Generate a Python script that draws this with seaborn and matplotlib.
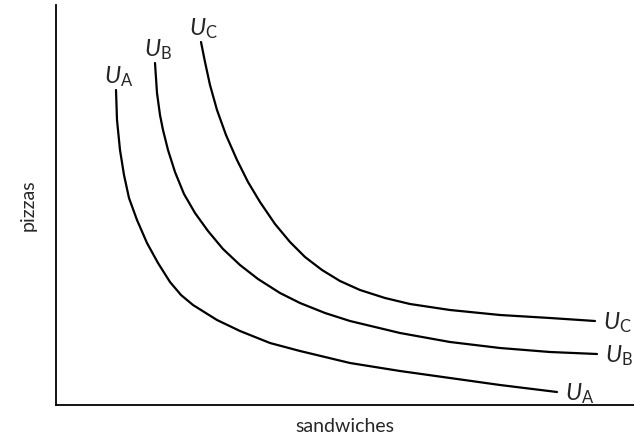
import matplotlib
matplotlib.use("Agg")
import matplotlib.pyplot as plt
import pandas as pd
import seaborn as sns

# values (x = sandwiches, y = pizzas, arbitrary units)
sandwiches_a = [60, 61, 64, 68, 73, 81, 91, 102, 114, 125, 137, 161, 184, 214, 244,
                294, 344, 394, 444, 501]
pizzas_a = [315, 285, 255, 230, 207, 185, 162, 142, 123, 110, 100, 85, 74, 62, 54,
            42, 34, 27, 20, 13]

sandwiches_b = [99, 101, 104, 107, 112, 119, 128, 139, 152, 167, 184, 202, 224, 244, 269,
                294, 344, 394, 444, 494, 541]
pizzas_b = [342, 312, 290, 275, 255, 233, 211, 192, 174, 156, 140, 126, 112, 102, 92,
            84, 72, 63, 57, 53, 51]

sandwiches_c = [145, 149, 154, 161, 170, 181, 192, 204, 219, 234, 249, 266, 284, 304, 329,
                354, 394, 444, 494, 539]
pizzas_c = [363, 343, 320, 295, 270, 245, 223, 203, 181, 163, 148, 135, 124, 115, 107,
            101, 95, 90, 87, 84]

curve_names = ["A", "B", "C"]

frames = []
for name, xs, ys in zip(curve_names, [sandwiches_a, sandwiches_b, sandwiches_c],
                        [pizzas_a, pizzas_b, pizzas_c]):
    frames.append(pd.DataFrame({"sandwiches": xs, "pizzas": ys, "curve": name}))
df = pd.concat(frames, ignore_index=True)

sns.set_style("white")
plt.rcParams["font.family"] = ["Lato", "DejaVu Sans"]
plt.rcParams["mathtext.fontset"] = "custom"
plt.rcParams["mathtext.rm"] = "Lato"
plt.rcParams["mathtext.it"] = "Lato:italic"

fig = plt.figure(figsize=(6.34, 4.37), dpi=100)
ax = fig.add_axes([56 / 634, 32 / 437, 578 / 634, 400 / 437])

sns.lineplot(data=df, x="sandwiches", y="pizzas", units="curve", estimator=None,
             sort=False, color="black", linewidth=1.6, ax=ax, legend=False,
             solid_joinstyle="round")

ax.set_xlim(0, 578)
ax.set_ylim(0, 400)
ax.set_xticks([])
ax.set_yticks([])
ax.set_xlabel("sandwiches", fontsize=14, labelpad=9)
ax.set_ylabel("pizzas", fontsize=14, labelpad=14)
sns.despine(ax=ax)
for side in ["left", "bottom"]:
    ax.spines[side].set_color("black")
    ax.spines[side].set_linewidth(1.3)

# curve labels at both ends
for name, xs, ys in zip(curve_names, [sandwiches_a, sandwiches_b, sandwiches_c],
                        [pizzas_a, pizzas_b, pizzas_c]):
    label = r"$U_{\mathrm{" + name + "}}$"
    ax.annotate(label, (xs[0], ys[0]), xytext=(2, 1), textcoords="offset points",
                ha="center", va="bottom", fontsize=17)
    ax.annotate(label, (xs[-1], ys[-1]), xytext=(6, -1), textcoords="offset points",
                ha="left", va="center", fontsize=17)

fig.savefig("out.png", dpi=100)
